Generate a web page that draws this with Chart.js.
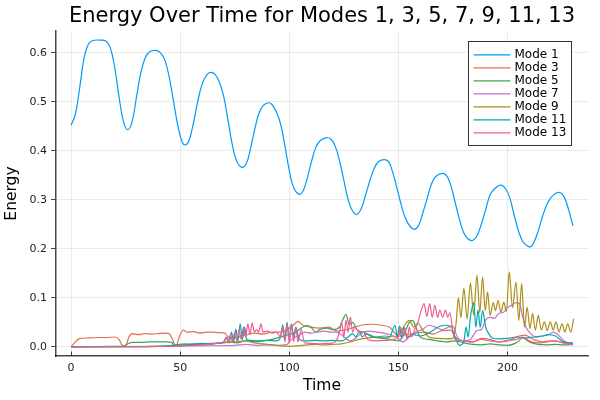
<!DOCTYPE html>
<html>
<head>
<meta charset="utf-8">
<script src="https://cdn.jsdelivr.net/npm/chart.js@4/dist/chart.umd.min.js"></script>
<style>
  html, body { margin: 0; padding: 0; background: #ffffff; }
  #wrap { width: 600px; height: 400px; }
</style>
</head>
<body>
<div id="wrap"><canvas id="c" width="600" height="400"></canvas></div>
<script>
// ---- Data (time, energy) ----
const titleText = 'Energy Over Time for Modes 1, 3, 5, 7, 9, 11, 13';
const seriesLabels = ['Mode 1', 'Mode 3', 'Mode 5', 'Mode 7', 'Mode 9', 'Mode 11', 'Mode 13'];
const seriesColors = ['#009AFA', '#E36F47', '#3EA44E', '#C271D2', '#AC8E18', '#00A9AD', '#ED5E93'];
const xTicks = [0, 50, 100, 150, 200];
const yTicks = [0.0, 0.1, 0.2, 0.3, 0.4, 0.5, 0.6];

const mode1 = [[0,0.452],[2,0.475],[4,0.53],[6,0.59],[8,0.618],[10,0.625],[13,0.626],[16,0.624],[18,0.61],[20,0.57],[22,0.51],[24,0.46],[26,0.443],[28,0.46],[30,0.51],[32,0.56],[34,0.59],[36,0.602],[39,0.605],[41,0.6],[43,0.585],[45,0.55],[47,0.5],[49,0.45],[51,0.417],[52.5,0.412],[54,0.42],[56,0.455],[58,0.5],[60,0.535],[62,0.554],[64,0.56],[66,0.556],[68,0.54],[70,0.51],[72,0.46],[74,0.41],[76,0.378],[78.5,0.366],[80.5,0.376],[82,0.4],[84,0.44],[86,0.475],[88,0.492],[90.5,0.498],[92,0.495],[94,0.48],[96,0.455],[98,0.41],[100,0.36],[102,0.325],[104.7,0.311],[106.5,0.32],[108,0.34],[110,0.375],[112,0.405],[114,0.42],[117,0.427],[119,0.424],[121,0.41],[123,0.38],[125,0.34],[127,0.3],[129,0.277],[131,0.27],[133,0.282],[135,0.31],[137,0.34],[139,0.365],[141,0.378],[143.5,0.382],[145.5,0.378],[147,0.362],[149,0.33],[151,0.295],[153,0.265],[155.5,0.245],[157.7,0.24],[159.5,0.25],[161,0.27],[163,0.3],[165,0.33],[167,0.347],[170,0.354],[172,0.35],[174,0.33],[176,0.295],[178,0.26],[180,0.232],[182,0.22],[184,0.217],[186,0.226],[188,0.25],[190,0.28],[192,0.31],[194,0.322],[197,0.33],[199,0.323],[201,0.305],[203,0.27],[205,0.237],[207,0.215],[209,0.206],[210.5,0.204],[212,0.212],[214,0.235],[216,0.265],[218,0.29],[220,0.305],[222,0.313],[224,0.315],[226,0.306],[228,0.28],[230,0.247]];

const mode3 = [[0,0],[2,0.01],[4,0.017],[8,0.018],[12,0.019],[16,0.019],[20,0.02],[22,0.015],[23.5,0.003],[25,0.002],[26.5,0.02],[28,0.027],[31,0.025],[34,0.027],[37,0.026],[40,0.027],[43,0.028],[45,0.027],[46.5,0.015],[48,0.002],[50,0.025],[51.5,0.034],[53,0.03],[56,0.031],[59,0.028],[62,0.03],[65,0.03],[68,0.029],[70.5,0.028],[72,0.02],[75,0.018],[78,0.022],[81,0.025],[84,0.028],[88,0.026],[92,0.03],[96,0.03],[99,0.035],[102,0.045],[104,0.052],[106,0.045],[110,0.04],[114,0.038],[118,0.04],[122,0.032],[126,0.035],[130,0.04],[134,0.045],[138,0.046],[142,0.044],[146,0.04],[150,0.022],[154,0.025],[158,0.028],[162,0.03],[166,0.026],[170,0.033],[174,0.034],[176,0.02],[180,0.012],[184,0.01],[188,0.017],[192,0.015],[196,0.01],[200,0.012],[204,0.02],[208,0.024],[212,0.015],[216,0.01],[220,0.012],[224,0.01],[228,0.008],[230,0.008]];

const mode5 = [[0,0],[20,0.001],[24,0.001],[26,0.006],[28,0.009],[32,0.009],[36,0.01],[40,0.01],[44,0.01],[46,0.009],[48,0.002],[52,0.004],[56,0.006],[60,0.007],[64,0.006],[68,0.008],[72,0.01],[76,0.008],[80,0.012],[84,0.01],[88,0.012],[92,0.015],[96,0.02],[100,0.025],[103,0.03],[106,0.04],[108,0.043],[110,0.04],[112,0.03],[114,0.035],[117,0.038],[120,0.035],[123,0.04],[125,0.06],[126,0.066],[127.5,0.045],[129,0.05],[131,0.035],[134,0.03],[138,0.022],[142,0.018],[146,0.015],[150,0.012],[153,0.03],[155,0.05],[156.5,0.054],[158,0.04],[160,0.02],[164,0.015],[168,0.012],[172,0.01],[176,0.012],[180,0.008],[184,0.005],[188,0.004],[192,0.006],[196,0.004],[200,0.003],[204,0.008],[207,0.018],[210,0.01],[214,0.005],[218,0.004],[222,0.005],[226,0.004],[230,0.005]];

const mode7 = [[0,0],[40,0.001],[60,0.002],[75,0.003],[80,0.005],[85,0.003],[90,0.004],[95,0.003],[99,0.005],[101,0.015],[103,0.02],[105,0.025],[107,0.03],[110,0.028],[113,0.03],[116,0.032],[119,0.03],[122,0.03],[125,0.02],[128,0.012],[131,0.02],[134,0.03],[137,0.032],[140,0.03],[143,0.028],[146,0.025],[149,0.02],[152,0.01],[155,0.02],[158,0.03],[161,0.035],[164,0.044],[167,0.04],[170,0.035],[173,0.04],[175,0.042],[177,0.02],[180,0.012],[183,0.015],[186,0.033],[188,0.035],[190,0.055],[192,0.06],[194,0.058],[196,0.068],[198,0.07],[200,0.08],[202,0.085],[204,0.09],[205.5,0.088],[207,0.06],[208.5,0.04],[210,0.03],[213,0.02],[216,0.022],[219,0.025],[221,0.03],[223,0.025],[226,0.012],[228,0.008],[230,0.007]];

const mode9 = [[0,0],[40,0.001],[50,0.003],[60,0.005],[65,0.006],[70,0.008],[75,0.01],[80,0.012],[84,0.008],[88,0.006],[92,0.004],[96,0.002],[100,0.001],[104,0.002],[108,0.004],[112,0.005],[116,0.004],[120,0.005],[124,0.006],[128,0.01],[132,0.015],[136,0.018],[140,0.02],[144,0.022],[148,0.02],[151,0.03],[153,0.045],[155,0.054],[157,0.04],[159,0.048],[161,0.035],[164,0.02],[168,0.017],[172,0.016],[175,0.017],[176.5,0.05],[177.5,0.1],[178.7,0.06],[180,0.12],[181.5,0.057],[183,0.13],[184.5,0.065],[186,0.146],[187.3,0.07],[188.6,0.142],[189.8,0.074],[190.9,0.112],[192,0.064],[193.5,0.09],[194.5,0.074],[195.7,0.095],[197,0.07],[198.3,0.091],[199.5,0.072],[200.8,0.153],[202.3,0.08],[203.9,0.132],[205.2,0.054],[206.5,0.129],[207.8,0.04],[209,0.081],[210.3,0.037],[211.5,0.068],[212.8,0.034],[214.1,0.064],[215.5,0.034],[216.9,0.051],[218.2,0.033],[219.6,0.051],[221,0.034],[222.2,0.051],[223.6,0.03],[225,0.047],[226.3,0.03],[227.6,0.047],[229,0.03],[230.3,0.057]];

const mode11 = [[0,0],[40,0.001],[48,0.004],[52,0.006],[56,0.005],[60,0.006],[64,0.007],[68,0.008],[70,0.01],[71.5,0.02],[72.5,0.008],[73.5,0.03],[74.5,0.01],[75.5,0.036],[76.5,0.012],[77.5,0.047],[78.5,0.015],[79.5,0.04],[80.5,0.015],[82,0.013],[86,0.012],[90,0.013],[94,0.012],[96,0.02],[97,0.045],[98,0.015],[99,0.05],[100,0.015],[101,0.047],[102,0.02],[103,0.04],[104.5,0.015],[108,0.012],[112,0.013],[116,0.012],[120,0.013],[124,0.012],[127,0.02],[129,0.027],[130.5,0.02],[132,0.03],[133.5,0.02],[135,0.027],[138,0.02],[142,0.018],[146,0.02],[148.5,0.044],[149.5,0.02],[150.5,0.042],[151.5,0.018],[152.5,0.04],[154,0.02],[157,0.025],[160,0.022],[164,0.028],[168,0.04],[171,0.044],[174,0.042],[176,0.02],[178,0.003],[180,0.01],[181,0.04],[182,0.02],[183,0.06],[184.5,0.09],[185.5,0.04],[186.5,0.075],[187.5,0.04],[188.6,0.074],[190,0.04],[191,0.03],[193,0.018],[196,0.016],[200,0.017],[204,0.02],[208,0.018],[212,0.02],[216,0.022],[219,0.025],[222,0.022],[225,0.012],[228,0.008],[230,0.007]];

const mode13 = [[0,0],[50,0.001],[55,0.003],[60,0.004],[65,0.006],[68,0.008],[70,0.01],[71,0.02],[72,0.008],[73,0.025],[74,0.01],[75,0.03],[76,0.012],[77,0.035],[78,0.015],[79,0.04],[80,0.02],[81,0.047],[82,0.025],[83,0.049],[84,0.03],[85,0.035],[86,0.03],[87,0.047],[88,0.03],[90,0.032],[92,0.028],[94,0.03],[96,0.02],[97,0.04],[98,0.01],[99,0.047],[100,0.008],[101,0.045],[102,0.01],[103,0.04],[104,0.01],[105.5,0.035],[107,0.008],[110,0.007],[114,0.006],[118,0.007],[121,0.01],[123,0.03],[124,0.05],[125,0.02],[126,0.054],[127,0.03],[128,0.061],[129,0.03],[130,0.04],[132,0.03],[134,0.03],[136,0.015],[140,0.012],[144,0.013],[148,0.015],[150,0.02],[151,0.04],[152,0.02],[153,0.038],[154,0.015],[155,0.04],[156,0.02],[157.5,0.035],[159,0.05],[160.5,0.075],[161.8,0.088],[163,0.062],[164.4,0.088],[165.5,0.06],[166.7,0.085],[168,0.06],[169,0.075],[170.3,0.06],[171.6,0.075],[172.6,0.06],[173.6,0.07],[175,0.03],[176,0.015],[180,0.012],[184,0.01],[188,0.015],[192,0.012],[196,0.01],[200,0.013],[204,0.015],[207,0.02],[210,0.012],[214,0.008],[218,0.01],[222,0.012],[226,0.007],[230,0.004]];

const seriesData = [mode1, mode3, mode5, mode7, mode9, mode11, mode13];

// ---- Plots.jl-like axis extents (3% widening) ----
const xMin = -6.9, xMax = 236.9;
const yMin = -0.0188, yMax = 0.6445;

const FONT = "'DejaVu Sans', sans-serif";
const AXIS = 'rgba(0,0,0,0.72)';

const overlay = {
  id: 'overlay',
  afterDraw(chart) {
    const { ctx, chartArea: a, scales } = chart;
    const xs = scales.x;
    ctx.save();
    ctx.strokeStyle = AXIS;
    ctx.lineWidth = 1;
    xTicks.forEach(v => {
      const px = Math.round(xs.getPixelForValue(v)) + 0.5;
      ctx.beginPath();
      ctx.moveTo(px, a.bottom);
      ctx.lineTo(px, a.bottom - 4.5);
      ctx.stroke();
    });
    ctx.fillStyle = '#000';
    ctx.font = '21px ' + FONT;
    ctx.textAlign = 'center';
    ctx.textBaseline = 'alphabetic';
    ctx.fillText(titleText, (a.left + a.right) / 2, 21.5);

    const boxW = 103, boxH = 104;
    const bx = Math.round(a.right - 17 - boxW) + 0.5;
    const by = Math.round(a.top + 10) + 0.5;
    ctx.fillStyle = '#fff';
    ctx.fillRect(bx, by, boxW, boxH);
    ctx.strokeStyle = '#333';
    ctx.lineWidth = 1;
    ctx.strokeRect(bx, by, boxW, boxH);
    ctx.font = '12px ' + FONT;
    ctx.textAlign = 'left';
    ctx.textBaseline = 'middle';
    chart.data.datasets.forEach((ds, i) => {
      const ry = by + 13.3 + i * 13;
      ctx.strokeStyle = ds.borderColor;
      ctx.lineWidth = 1.2;
      ctx.beginPath();
      ctx.moveTo(bx + 5, ry);
      ctx.lineTo(bx + 42, ry);
      ctx.stroke();
      ctx.fillStyle = '#000';
      ctx.fillText(ds.label, bx + 46, ry + 0.5);
    });
    ctx.restore();
  }
};

const datasets = seriesData.map((arr, i) => ({
  label: seriesLabels[i],
  data: arr.map(p => ({ x: p[0], y: p[1] })),
  borderColor: seriesColors[i],
  backgroundColor: seriesColors[i],
  borderWidth: 1.2,
  pointRadius: 0,
  fill: false,
  cubicInterpolationMode: i === 0 ? 'default' : 'monotone',
  tension: i === 0 ? 0.4 : 0,
  order: seriesData.length - i
}));

new Chart(document.getElementById('c'), {
  type: 'line',
  data: { datasets },
  options: {
    responsive: false,
    animation: false,
    devicePixelRatio: 1,
    layout: { padding: { top: 31, right: 12, left: 0, bottom: 0 } },
    plugins: {
      legend: { display: false },
      tooltip: { enabled: false },
      title: { display: false }
    },
    scales: {
      x: {
        type: 'linear',
        min: xMin, max: xMax,
        afterFit: s => { s.height = 44; },
        afterBuildTicks: s => { s.ticks = xTicks.map(v => ({ value: v })); },
        ticks: { includeBounds: false, color: '#222', font: { family: FONT, size: 11 }, padding: 6,
                 callback: v => String(v), maxRotation: 0, autoSkip: false },
        grid: { color: 'rgba(0,0,0,0.08)', lineWidth: 1, drawTicks: false },
        border: { display: true, color: AXIS, width: 1.5 },
        title: { display: true, text: 'Time', color: '#000', font: { family: FONT, size: 15.5 },
                 padding: { top: 0, bottom: 4.7 } }
      },
      y: {
        type: 'linear',
        min: yMin, max: yMax,
        afterFit: s => { s.width = 56; },
        afterBuildTicks: s => { s.ticks = yTicks.map(v => ({ value: v })); },
        ticks: { includeBounds: false, color: '#222', font: { family: FONT, size: 11 }, padding: 4,
                 callback: v => Number(v).toFixed(1), autoSkip: false },
        grid: { color: 'rgba(0,0,0,0.08)', lineWidth: 1, drawTicks: true, tickLength: 5, tickColor: AXIS, tickWidth: 1 },
        border: { display: true, color: AXIS, width: 1.5 },
        title: { display: true, text: 'Energy', color: '#000', font: { family: FONT, size: 15.5 },
                 padding: { top: 2.7, bottom: 0 } }
      }
    }
  },
  plugins: [overlay]
});
</script>
</body>
</html>
